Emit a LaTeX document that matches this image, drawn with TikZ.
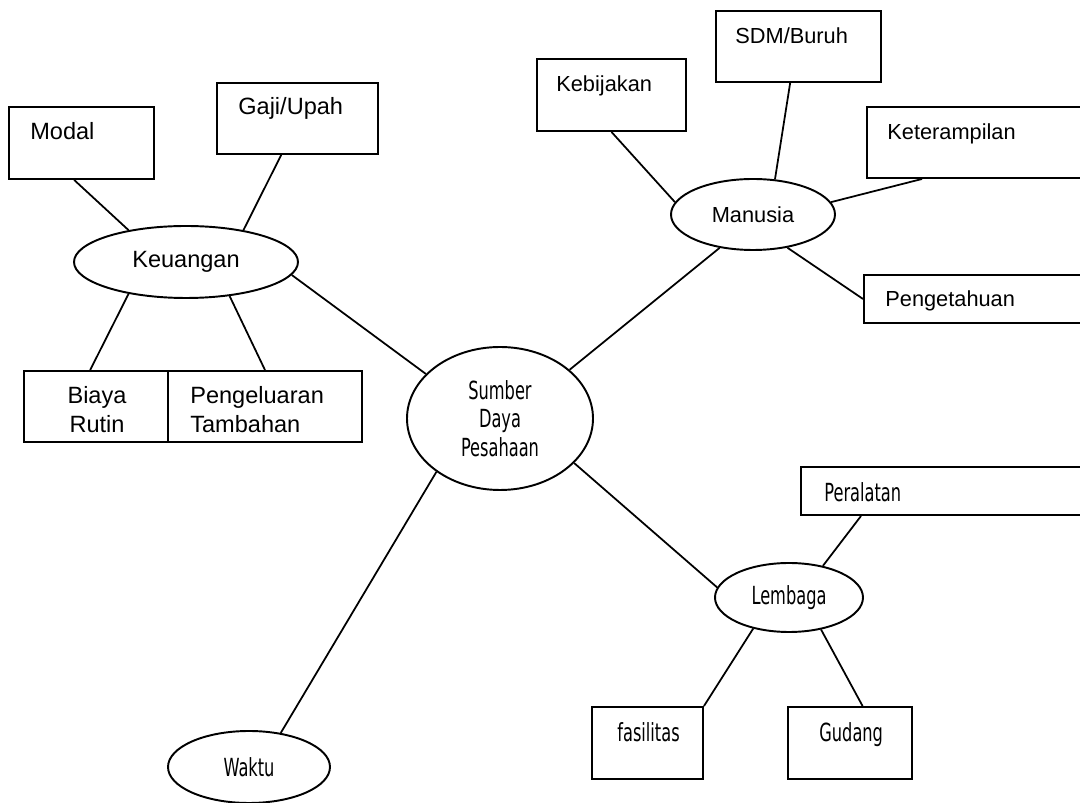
\documentclass[tikz,border=0pt]{standalone}
\usepackage{fontspec}
\setmainfont{Liberation Sans}
\newfontfamily\tahfont[FakeStretch=0.65]{DejaVu Sans}
\usetikzlibrary{shapes.geometric,calc}
\begin{document}
\begin{tikzpicture}[x=0.02cm,y=-0.02cm,
  bx/.style 2 args={draw,line width=1.1pt,rectangle,inner sep=0pt,minimum width=#1*0.02cm,minimum height=#2*0.02cm},
  oval/.style 2 args={draw,line width=1.1pt,ellipse,inner sep=0pt,minimum width=#1*0.02cm,minimum height=#2*0.02cm},
  afont/.style={font=\fontsize{12.4}{16.4}\selectfont},
  lfont/.style={font=\fontsize{13.4}{16.4}\selectfont},
  tfont/.style={font=\tahfont\fontsize{14.2}{16.2}\selectfont},
  txt/.style={inner sep=0pt,anchor=base west,afont},
  ltxt/.style={inner sep=0pt,anchor=base west,lfont},
  ttxt/.style={inner sep=0pt,anchor=base west,tfont},
  link/.style={line width=1pt}]
\useasboundingbox (0,0) rectangle (1080,803);
\clip (0,0) rectangle (1080,803);
\fill[white] (0,0) rectangle (1080,803);

% ellipses
\node[oval={224}{72},lfont] (keu) at (186,262) {Keuangan};
\node[oval={164}{71},afont] (man) at (753,214.5) {Manusia};
\node[oval={186}{143},tfont,align=center] (sdp) at (500,418.5) {Sumber\\Daya\\Pesahaan};
\node[oval={148}{69},tfont] (lem) at (789,597.5) {Lembaga};
\node[oval={162}{72},tfont] (wak) at (249,767) {Waktu};

% boxes
\node[bx={145}{72}] (modal) at (81.5,143) {};
\node[ltxt] (modalT) at (30,140) {Modal};
\node[bx={161}{71}] (gaji) at (297.5,118.5) {};
\node[ltxt] (gajiT) at (238,115) {Gaji/Upah};
\node[bx={144}{71}] (biaya) at (96,406.5) {};
\node[inner sep=0pt,lfont,align=center] (biayaT) at (97,409.5) {Biaya\\Rutin};
\node[bx={194}{71}] (peng) at (265,406.5) {};
\node[inner sep=0pt,lfont,align=left,anchor=west] (pengT) at (190,409.5) {Pengeluaran\\Tambahan};

\node[bx={149}{72}] (kebi) at (611.5,95) {};
\node[txt] (kebiT) at (556,92) {Kebijakan};
\node[bx={165}{71}] (sdm) at (798.5,46.5) {};
\node[txt] (sdmT) at (735,44) {SDM/Buruh};
\node[bx={233}{71}] (kete) at (983.5,142.5) {};
\node[txt] (keteT) at (887,140) {Keterampilan};
\node[bx={236}{48}] (penget) at (982,299) {};
\node[txt] (pengetT) at (885,307) {Pengetahuan};

\node[bx={299}{48}] (pera) at (950.5,491) {};
\node[ttxt] (peraT) at (824,502) {Peralatan};
\node[bx={111}{72}] (fasi) at (647.5,743) {};
\node[ttxt] (fasiT) at (617,742) {fasilitas};
\node[bx={124}{72}] (gud) at (850,743) {};
\node[ttxt] (gudT) at (819,742) {Gudang};

% connectors
\draw[link] ($(modal.south west)!0.45!(modal.south east)$) -- (keu.151);
\draw[link] ($(gaji.south west)!0.40!(gaji.south east)$) -- (keu.29);
\draw[link] ($(biaya.north west)!0.46!(biaya.north east)$) -- (keu.209);
\draw[link] (peng.north) -- (keu.322);
\draw[link] (keu.353) -- (sdp.149);

\draw[link] (kebi.south) -- (man.171);
\draw[link] ($(sdm.south west)!0.45!(sdm.south east)$) -- (man.58);
\draw[link] ($(kete.south west)+(56,0)$) -- (man.9);
\draw[link] (man.316) -- (penget.west);
\draw[link] (man.225) -- (sdp.35.5);

\draw[link] (sdp.329) -- (lem.172);
\draw[link] ($(pera.south west)+(61,0)$) -- (lem.43);
\draw[link] (lem.221) -- (fasi.north east);
\draw[link] (lem.315) -- ($(gud.north west)!0.6!(gud.north east)$);

\draw[link] (sdp.220) -- (wak.47);
\end{tikzpicture}
\end{document}
